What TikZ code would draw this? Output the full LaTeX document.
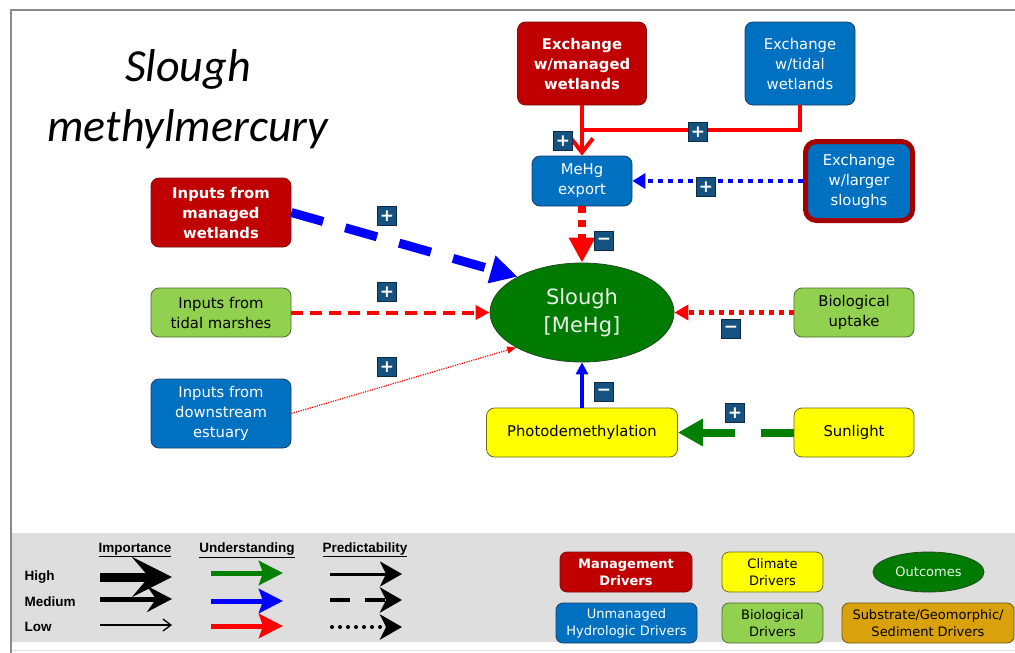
\documentclass[tikz,border=0pt]{standalone}
\usepackage{fontspec}
\setmainfont{DejaVu Sans}
\newfontfamily\titlefont{Carlito}
\newfontfamily\arialfont{Liberation Sans}
\usetikzlibrary{arrows.meta,shapes.geometric}
\definecolor{mred}{HTML}{C00000}
\definecolor{mredd}{HTML}{7A1010}
\definecolor{hblue}{HTML}{0070C0}
\definecolor{hblued}{HTML}{1F3F66}
\definecolor{bgreen}{HTML}{92D050}
\definecolor{bgreend}{HTML}{4F6B35}
\definecolor{cyel}{HTML}{FFFF00}
\definecolor{cyeld}{HTML}{6B6B20}
\definecolor{ogreen}{HTML}{007A00}
\definecolor{ogreend}{HTML}{1F4A1F}
\definecolor{otext}{HTML}{E6F5E6}
\definecolor{sorange}{HTML}{D9A20C}
\definecolor{sorangd}{HTML}{6B5418}
\definecolor{cred}{HTML}{FF0000}
\definecolor{cblue}{HTML}{0000FF}
\definecolor{cgreen}{HTML}{008000}
\definecolor{badgeb}{HTML}{15527F}
\definecolor{badged}{HTML}{0A2C48}
\definecolor{legbg}{HTML}{DEDEDE}
\definecolor{framec}{HTML}{8A8A8A}
\tikzset{
  base/.style={rectangle, rounded corners=8pt, line width=0.8pt, align=center, inner sep=0pt,
    font=\fontsize{14.8}{20}\selectfont},
  mgmt/.style={base, fill=mred, draw=mredd, text=white, font=\bfseries\fontsize{14.8}{20}\selectfont},
  hydro/.style={base, fill=hblue, draw=hblued, text=white},
  biol/.style={base, fill=bgreen, draw=bgreend, text=black},
  clim/.style={base, fill=cyel, draw=cyeld, text=black},
  outc/.style={ellipse, fill=ogreen, draw=ogreend, line width=0.8pt, inner sep=0pt, align=center, text=otext},
  badge/.style={rectangle, minimum size=19pt, inner sep=0pt, fill=badgeb, draw=badged, line width=0.8pt,
    text=white, font=\bfseries\fontsize{17}{17}\selectfont},
  lgfont/.style={font=\fontsize{13}{17}\selectfont},
  lgbox/.style={rounded corners=7pt, minimum height=40pt},
  lab/.style={font=\arialfont\bfseries\fontsize{13.5}{15}\selectfont},
}
\begin{document}
\begin{tikzpicture}[x=1pt,y=-1pt]
\useasboundingbox (0,0) rectangle (1015,653);
\fill[white] (0,0) rectangle (1015,653);
% frame
\draw[framec, line width=2.2pt] (11,653) -- (11,10) -- (1015,10);
\draw[gray!25, line width=1pt] (12,650) -- (1015,650);
% legend background
\fill[legbg] (12,533) rectangle (1015,642);

% title
\node[font=\titlefont\itshape\fontsize{46}{60}\selectfont, align=center] (title) at (188,99) {Slough\\methylmercury};

% nodes
\node[mgmt, minimum width=129pt, minimum height=83pt] (exm) at (582,63.5) {Exchange\\w/managed\\wetlands};
\node[hydro, minimum width=110pt, minimum height=83pt] (ext) at (800,63.5) {Exchange\\w/tidal\\wetlands};
\node[hydro, minimum width=100pt, minimum height=50pt] (export) at (582,181) {MeHg\\export};
\node[hydro, draw=mred!85!black, line width=5pt, rounded corners=11pt, minimum width=107pt, minimum height=79pt] (exl) at (859,181) {Exchange\\w/larger\\sloughs};
\node[mgmt, minimum width=140pt, minimum height=69pt] (imw) at (221,212.5) {Inputs from\\managed\\wetlands};
\node[biol, minimum width=140pt, minimum height=49pt] (itm) at (221,312.5) {Inputs from\\tidal marshes};
\node[hydro, minimum width=140pt, minimum height=69pt] (ide) at (221,413.5) {Inputs from\\downstream\\estuary};
\node[outc, minimum width=184pt, minimum height=99pt, font=\fontsize{21}{28}\selectfont] (slough) at (582,312.5) {Slough\\{}[MeHg]};
\node[biol, minimum width=120pt, minimum height=49pt] (bio) at (854,312.5) {Biological\\uptake};
\node[clim, minimum width=191pt, minimum height=49pt] (photo) at (582,432.5) {Photodemethylation};
\node[clim, minimum width=120pt, minimum height=49pt] (sun) at (854,432.5) {Sunlight};
\coordinate (jn) at (582,130);

% connectors
\draw[cred, line width=4pt] (ext.south) |- (jn);
\draw[cred, line width=4pt, -{Straight Barb[length=14pt,width=22pt]}] (exm.south) -- (export.north);
\draw[cblue, line width=4pt, dash pattern=on 5pt off 5pt, -{Triangle[length=13pt,width=15pt]}] (exl.west) -- (export.east);
\draw[cred, line width=8pt, dash pattern=on 7pt off 7pt, -{Triangle[length=25pt,width=25pt]}] (export.south) -- (slough.north);
\draw[cblue, line width=9pt, dash pattern=on 33pt off 23pt, -{Triangle[length=27pt,width=27pt]}] (imw.east) -- (slough.151);
\draw[cred, line width=4pt, dash pattern=on 12pt off 7pt, -{Triangle[length=14pt,width=14pt]}] (itm.east) -- (slough.west);
\draw[cred, line width=1.2pt, dash pattern=on 1.2pt off 1.2pt, -{Triangle[length=9pt,width=7pt]}] (ide.east) -- (slough.208);
\draw[cred, line width=5pt, dash pattern=on 5pt off 5pt, -{Triangle[length=14pt,width=15pt]}] (bio.west) -- (slough.east);
\draw[cblue, line width=3.5pt, -{Triangle[length=12pt,width=12pt]}] (photo.north) -- (slough.south);
\draw[cgreen, line width=8pt, dash pattern=on 33pt off 26pt on 60pt off 0pt, -{Triangle[length=25pt,width=26pt]}] (sun.west) -- (photo.east);

% badges
\node[badge] (b1) at (563,141) {+};
\node[badge] (b2) at (698,132) {+};
\node[badge] (b3) at (706,187) {+};
\node[badge] (b4) at (604,241) {−};
\node[badge] (b5) at (387,216) {+};
\node[badge] (b6) at (387,292) {+};
\node[badge] (b7) at (387,367) {+};
\node[badge] (b8) at (731,329) {−};
\node[badge] (b9) at (604,392) {−};
\node[badge] (b10) at (735,413) {+};

% legend labels
\node[lab] (hImp) at (135,550) {\underline{Importance}};
\node[lab] (hUnd) at (247,550) {\underline{Understanding}};
\node[lab] (hPre) at (365,550) {\underline{Predictability}};
\node[lab, anchor=west] (lHigh) at (21,577) {High};
\node[lab, anchor=west] (lMed) at (21,602) {Medium};
\node[lab, anchor=west] (lLow) at (21,627) {Low};

% importance arrows
\draw[black, line width=9pt, -{Stealth[length=40pt,width=40pt,inset=17pt]}] (100,577) -- (172,577);
\draw[black, line width=5pt, -{Stealth[length=25pt,width=26pt,inset=9pt]}] (100,599) -- (172,599);
\draw[black, line width=1.3pt, -{Straight Barb[length=8pt,width=12pt]}] (100,625) -- (172,625);
% understanding arrows
\draw[cgreen, line width=5pt, -{Stealth[length=24pt,width=24pt,inset=4pt]}] (211,573) -- (283,573);
\draw[cblue, line width=5pt, -{Stealth[length=24pt,width=24pt,inset=4pt]}] (211,601) -- (283,601);
\draw[cred, line width=5pt, -{Stealth[length=24pt,width=24pt,inset=4pt]}] (211,626) -- (283,626);
% predictability arrows
\draw[black, line width=3pt, -{Stealth[length=22pt,width=25pt,inset=6pt]}] (330,574) -- (402,574);
\draw[black, line width=4pt, dash pattern=on 20pt off 15pt, -{Stealth[length=22pt,width=25pt,inset=6pt]}] (330,600) -- (402,600);
\draw[black, line width=4pt, line cap=round, dash pattern=on 0pt off 8pt, -{Stealth[length=22pt,width=25pt,inset=6pt]}] (332,627) -- (402,627);

% legend boxes
\node[mgmt, lgbox, minimum width=132pt, font=\bfseries\fontsize{13}{17}\selectfont] (lgM) at (626,572) {Management\\Drivers};
\node[clim, lgbox, minimum width=101pt, lgfont] (lgC) at (772.5,572) {Climate\\Drivers};
\node[outc, minimum width=111pt, minimum height=40pt, lgfont] (lgO) at (928.5,572) {Outcomes};
\node[hydro, lgbox, minimum width=141pt, lgfont] (lgH) at (626.5,623) {Unmanaged\\Hydrologic Drivers};
\node[biol, lgbox, minimum width=101pt, lgfont] (lgB) at (772.5,623) {Biological\\Drivers};
\node[base, lgbox, fill=sorange, draw=sorangd, minimum width=172pt, lgfont] (lgS) at (928,623) {Substrate/Geomorphic/\\Sediment Drivers};
\end{tikzpicture}
\end{document}
